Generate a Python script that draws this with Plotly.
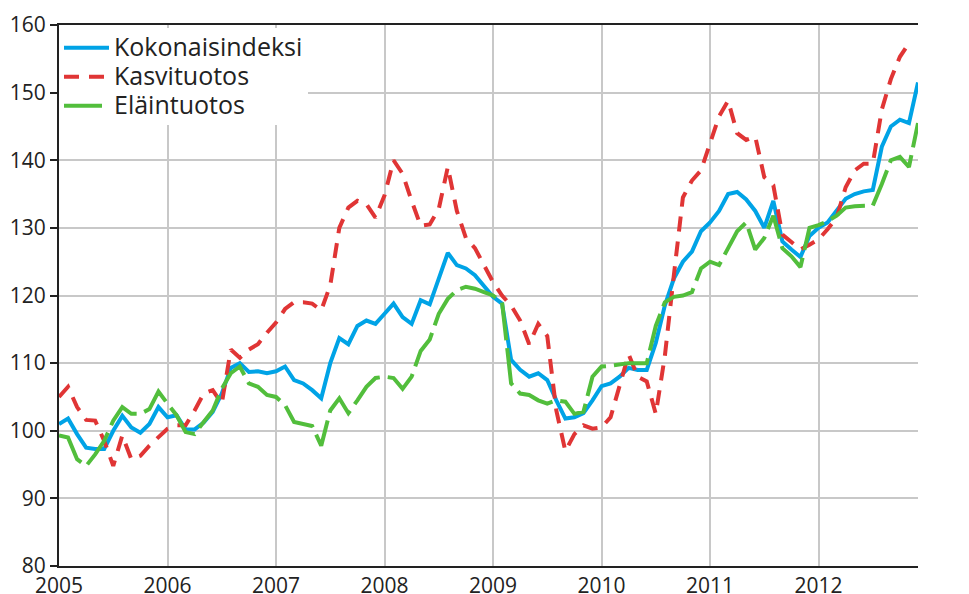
import plotly.graph_objects as go

years = ["2005", "2006", "2007", "2008", "2009", "2010", "2011", "2012"]
months = list(range(96))  # Jan 2005 ... Dec 2012

kokonaisindeksi = [
    101.0, 101.8, 99.5, 97.5, 97.3, 97.3, 100.0, 102.2, 100.5, 99.7, 101.0, 103.5,
    102.0, 102.3, 100.2, 100.2, 101.2, 102.8, 105.5, 109.3, 110.0, 108.7, 108.8, 108.5,
    108.8, 109.5, 107.5, 107.0, 106.0, 104.8, 110.0, 113.7, 112.8, 115.5, 116.3, 115.8,
    117.3, 118.8, 116.8, 115.8, 119.3, 118.7, 122.5, 126.3, 124.5, 124.0, 123.0, 121.5,
    119.8, 118.8, 110.5, 109.0, 108.0, 108.5, 107.5, 104.5, 101.8, 102.0, 102.6, 104.5,
    106.6, 107.0, 108.0, 109.3, 109.0, 109.0, 113.0, 118.5, 122.5, 125.0, 126.5, 129.5,
    130.8, 132.5, 135.0, 135.3, 134.2, 132.5, 130.0, 134.0, 128.0, 126.8, 125.7, 128.8,
    130.0, 130.8, 132.5, 134.3, 135.0, 135.4, 135.6, 142.0, 145.0, 146.0, 145.5, 151.5,
]

kasvituotos = [
    105.0, 106.5, 103.5, 101.6, 101.5, 98.5, 94.8, 99.3, 95.8, 96.3, 97.8, 99.0,
    100.3, 100.8, 100.8, 103.0, 105.5, 106.0, 104.0, 112.0, 110.8, 112.0, 112.8, 114.5,
    116.0, 118.0, 119.0, 119.0, 118.8, 117.8, 121.5, 130.0, 133.0, 134.0, 133.5, 131.5,
    134.8, 140.0, 138.0, 134.0, 130.3, 130.5, 132.8, 139.0, 132.5, 128.5, 127.0, 124.5,
    122.0, 120.0, 118.5, 116.3, 112.8, 115.8, 114.0, 103.0, 97.0, 99.5, 100.8, 100.3,
    100.5, 102.0, 106.5, 111.3, 108.0, 107.3, 102.5, 111.0, 123.0, 134.5, 137.0, 138.5,
    142.5, 146.5, 148.8, 144.0, 143.0, 143.5, 137.5, 136.3, 129.0, 127.8, 126.8, 127.5,
    128.3, 129.8, 131.5, 136.0, 138.5, 139.5, 139.5, 147.5, 152.0, 155.3, 157.3, None,
]

elaintuotos = [
    99.3, 99.0, 95.8, 94.8, 96.5, 98.5, 101.5, 103.5, 102.5, 102.5, 103.2, 105.8,
    104.0, 102.3, 99.8, 99.5, 101.3, 103.0, 106.2, 108.5, 109.5, 107.0, 106.5, 105.3,
    105.0, 103.8, 101.3, 101.0, 100.7, 97.8, 103.0, 104.8, 102.6, 104.5, 106.5, 107.8,
    108.0, 107.8, 106.2, 108.0, 111.8, 113.5, 117.3, 119.5, 120.8, 121.3, 121.0, 120.5,
    120.0, 119.0, 107.0, 105.5, 105.3, 104.5, 104.0, 104.5, 104.3, 102.5, 102.8, 108.0,
    109.5, 109.6, 109.8, 110.0, 110.0, 110.0, 115.5, 119.0, 119.8, 120.0, 120.5, 124.0,
    125.0, 124.5, 127.0, 129.5, 130.8, 126.8, 128.5, 131.8, 127.0, 125.8, 124.2, 130.0,
    130.4, 131.0, 131.8, 133.0, 133.2, 133.3, 133.3, 136.5, 140.0, 140.5, 139.0, 145.5,
]

y_ticks = [80, 90, 100, 110, 120, 130, 140, 150, 160]

FONT = "Open Sans"
BLUE = "#00A3E6"
RED = "#E03535"
GREEN = "#52BE3C"


def legend_label(text):
    return '<span style="font-size:25px">' + text + "</span>"


fig = go.Figure()
fig.add_trace(go.Scatter(x=months, y=kokonaisindeksi, name=legend_label("Kokonaisindeksi"),
                         mode="lines", line=dict(color=BLUE, width=4)))
fig.add_trace(go.Scatter(x=months, y=kasvituotos, name=legend_label("Kasvituotos"),
                         mode="lines", line=dict(color=RED, width=4, dash="15px,10px")))
fig.add_trace(go.Scatter(x=months, y=elaintuotos, name=legend_label("Eläintuotos"),
                         mode="lines", line=dict(color=GREEN, width=4, dash="38px,8px")))

axis_font = dict(family=FONT, size=21, color="#222222")

# The page body has an 8px default margin, so the figure is sized to the remaining window.
fig.update_layout(
    width=961, height=586,
    margin=dict(l=51, r=51, t=17, b=28),
    paper_bgcolor="white", plot_bgcolor="white",
    showlegend=True,
    legend=dict(x=0, y=0.994, xanchor="left", yanchor="top", bgcolor="white",
                borderwidth=0, font=dict(family=FONT, size=20, color="#222222"),
                itemwidth=45, tracegroupgap=0),
    xaxis=dict(range=[0, 95], tickmode="array", tickvals=[0, 12, 24, 36, 48, 60, 72, 84],
               ticktext=years, showgrid=True, gridcolor="#c8c8c8", gridwidth=1.5,
               showline=True, linecolor="#222222", linewidth=2, mirror=True,
               ticks="", tickfont=axis_font, zeroline=False, automargin=False,
               ticklabelstandoff=0),
    yaxis=dict(range=[80, 160], tickmode="array", tickvals=y_ticks,
               showgrid=True, gridcolor="#c8c8c8", gridwidth=1.5,
               showline=True, linecolor="#222222", linewidth=2,
               ticks="outside", ticklen=7, tickwidth=2, tickcolor="#222222",
               tickfont=axis_font, zeroline=False, automargin=False),
    yaxis2=dict(range=[80, 160], tickmode="array", tickvals=y_ticks, overlaying="y",
                side="right", showgrid=False, showline=True, linecolor="#222222",
                linewidth=2, ticks="outside", ticklen=7, tickwidth=2, tickcolor="#222222",
                tickfont=axis_font, zeroline=False, automargin=False),
)

fig.write_html("out.html")
